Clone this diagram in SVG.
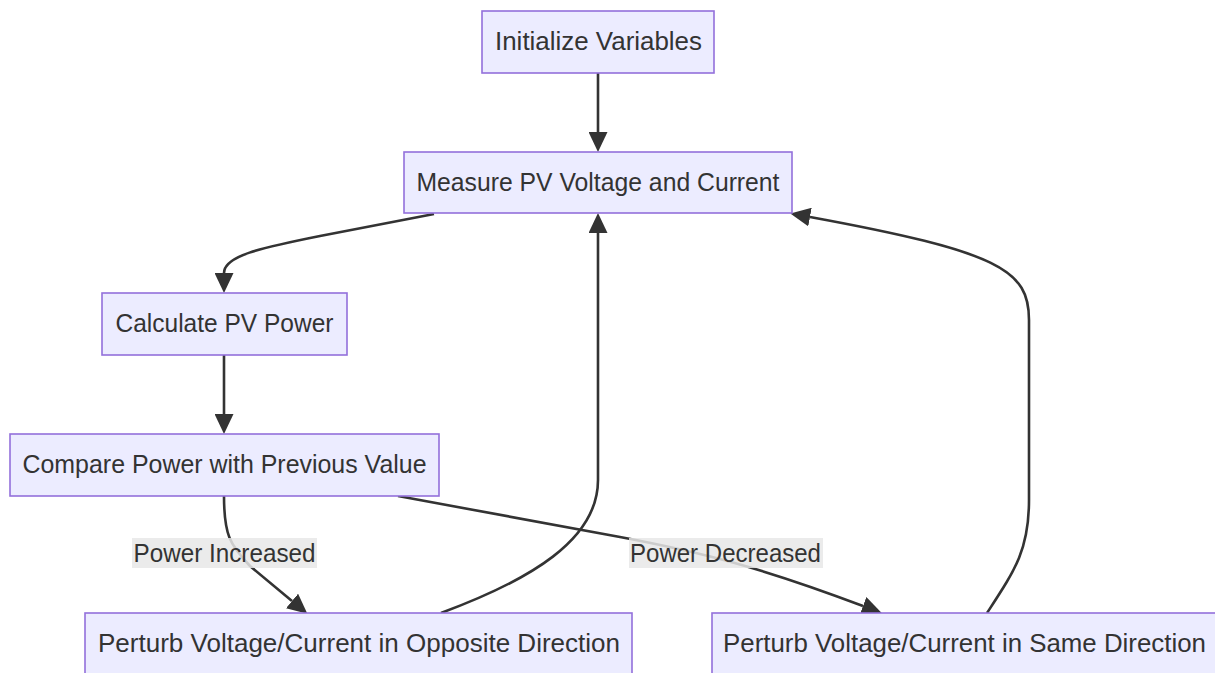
<svg xmlns="http://www.w3.org/2000/svg" width="1215" height="673" viewBox="0 0 1215 673">
  <style>
    .node rect { fill: #ECECFF; stroke: #9370DB; stroke-width: 1.6; }
    .node text, .label text { font-family: "Liberation Sans", Arial, sans-serif; font-size: 25px; fill: #333333; text-anchor: middle; }
    .edge { fill: none; stroke: #333333; stroke-width: 2.6; }
    .label rect { fill: #e8e8e8; fill-opacity: 0.85; }
  </style>
  <defs>
    <marker id="arrow" viewBox="0 0 10 10" refX="0" refY="5" markerUnits="userSpaceOnUse" markerWidth="20" markerHeight="19" preserveAspectRatio="none" orient="auto">
      <path d="M0,0 L10,5 L0,10 z" fill="#333333"/>
    </marker>
  </defs>
  <rect width="1215" height="673" fill="#ffffff"/>

  <g id="connectors">
    <path class="edge" d="M598,73 L598,132" marker-end="url(#arrow)"/>
    <path class="edge" d="M434,214 L320,236 C260,248 224,256 224,273" marker-end="url(#arrow)"/>
    <path class="edge" d="M224,355 L224,414" marker-end="url(#arrow)"/>
    <path class="edge" d="M224,496 C224,535 230,545 250,566 L292,601" marker-end="url(#arrow)"/>
    <path class="edge" d="M398,496 L620,537 C700,552 760,567 863,606" marker-end="url(#arrow)"/>
    <path class="edge" d="M441,613 C530,580 598,540 598,480 L598,233" marker-end="url(#arrow)"/>
    <path class="edge" d="M987,613 C1015,570 1029,550 1029,500 L1029,320 C1029,270 1000,252 810,217" marker-end="url(#arrow)"/>
  </g>

  <g id="label-increased" class="label">
    <rect x="132" y="538" width="185" height="30"/>
    <text x="224.5" y="562" textLength="182" lengthAdjust="spacingAndGlyphs">Power Increased</text>
  </g>
  <g id="label-decreased" class="label">
    <rect x="629" y="538" width="194" height="30"/>
    <text x="725.5" y="562" textLength="191" lengthAdjust="spacingAndGlyphs">Power Decreased</text>
  </g>

  <g id="init" class="node">
    <rect x="482" y="11" width="232" height="62"/>
    <text x="598.5" y="50" textLength="207" lengthAdjust="spacingAndGlyphs">Initialize Variables</text>
  </g>
  <g id="measure" class="node">
    <rect x="404" y="152" width="388" height="61"/>
    <text x="598" y="191" textLength="363" lengthAdjust="spacingAndGlyphs">Measure PV Voltage and Current</text>
  </g>
  <g id="calculate" class="node">
    <rect x="102" y="293" width="245" height="62"/>
    <text x="224.5" y="332" textLength="218" lengthAdjust="spacingAndGlyphs">Calculate PV Power</text>
  </g>
  <g id="compare" class="node">
    <rect x="10" y="434" width="429" height="62"/>
    <text x="224.5" y="473" textLength="404" lengthAdjust="spacingAndGlyphs">Compare Power with Previous Value</text>
  </g>
  <g id="opposite" class="node">
    <rect x="85" y="613" width="547" height="62"/>
    <text x="359" y="652" textLength="522" lengthAdjust="spacingAndGlyphs">Perturb Voltage/Current in Opposite Direction</text>
  </g>
  <g id="same" class="node">
    <rect x="712" y="613" width="507" height="62"/>
    <text x="964.5" y="652" textLength="483" lengthAdjust="spacingAndGlyphs">Perturb Voltage/Current in Same Direction</text>
  </g>
</svg>
